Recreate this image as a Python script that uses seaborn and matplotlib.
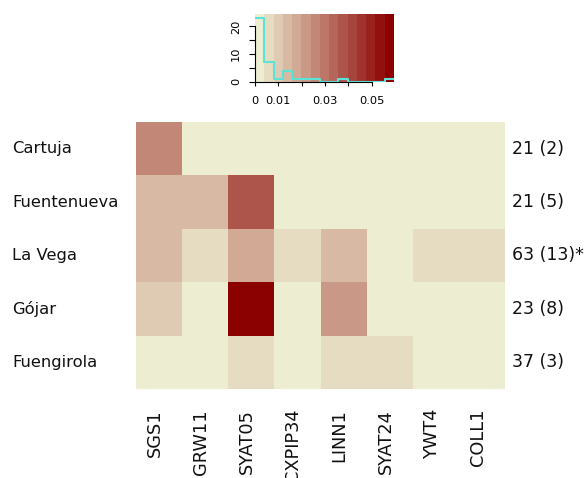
import numpy as np
import pandas as pd
import matplotlib
matplotlib.use("Agg")
import matplotlib.pyplot as plt
import matplotlib.transforms as mtransforms
from matplotlib.colors import ListedColormap, to_rgb
import seaborn as sns

# Populations (rows) and loci (columns)
populations = ["Cartuja", "Fuentenueva", "La Vega", "Gójar", "Fuengirola"]
loci = ["SGS1", "GRW11", "SYAT05", "CXPIP34", "LINN1", "SYAT24", "YWT4", "COLL1"]

# Per-locus frequencies for each population
cartuja     = [0.0255, 0.0, 0.0, 0.0, 0.0, 0.0, 0.0, 0.0]
fuentenueva = [0.0140, 0.0135, 0.0375, 0.0, 0.0, 0.0, 0.0, 0.0]
la_vega     = [0.0145, 0.0060, 0.0180, 0.0055, 0.0150, 0.0, 0.0050, 0.0058]
gojar       = [0.0100, 0.0, 0.0596, 0.0, 0.0220, 0.0, 0.0, 0.0]
fuengirola  = [0.0, 0.0, 0.0065, 0.0, 0.0052, 0.0062, 0.0, 0.0]

# Sample sizes shown on the right of each row
row_notes = ["21 (2)", "21 (5)", "63 (13)*", "23 (8)", "37 (3)"]

key_ticks = [0.0, 0.01, 0.02, 0.03, 0.04, 0.05]
key_tick_labels = ["0", "0.01", "", "0.03", "", "0.05"]
count_ticks = [0, 5, 10, 15, 20]
count_tick_labels = ["0", "", "10", "", "20"]

data = pd.DataFrame([cartuja, fuentenueva, la_vega, gojar, fuengirola],
                    index=populations, columns=loci)

# 15-step ramp from cream to dark red
n_colors = 15
c_low = np.array(to_rgb("#EDEDD1"))
c_high = np.array(to_rgb("#8B0000"))
ramp = [tuple(c_low + (c_high - c_low) * t) for t in np.linspace(0, 1, n_colors)]
cmap = ListedColormap(ramp)
vmin, vmax = float(data.values.min()), float(data.values.max())

W, H = 588, 478
fig = plt.figure(figsize=(W / 100, H / 100), dpi=100)
fig.patch.set_facecolor("white")

def px_box(x0, y0, x1, y1):
    return [x0 / W, 1 - y1 / H, (x1 - x0) / W, (y1 - y0) / H]

# ---- main heatmap ----
ax = fig.add_axes(px_box(136, 122, 505, 389))
sns.heatmap(data, cmap=cmap, vmin=vmin, vmax=vmax, cbar=False, ax=ax,
            xticklabels=False, yticklabels=False, linewidths=0)
ax.set_xlabel("")
ax.set_ylabel("")
ax.tick_params(length=0)

row_tf = mtransforms.blended_transform_factory(fig.transFigure, ax.transData)
for i, (name, note) in enumerate(zip(populations, row_notes)):
    fig.text(12 / W, i + 0.5, name, transform=row_tf, ha="left", va="center",
             fontsize=11.8, family="DejaVu Sans", color="#111111")
    fig.text(512 / W, i + 0.5, note, transform=row_tf, ha="left", va="center",
             fontsize=12.5, family="DejaVu Sans", color="#111111")

col_tf = mtransforms.blended_transform_factory(ax.transData, fig.transFigure) + \
    mtransforms.ScaledTranslation(-4 / 100, 0, fig.dpi_scale_trans)
for j, name in enumerate(loci):
    ax.text(j + 0.5, 1 - 409 / H, name, transform=col_tf, rotation=90,
            ha="center", va="top", fontsize=12.8, family="DejaVu Sans",
            color="#111111", clip_on=False)

# ---- colour key with histogram of cell values ----
kax = fig.add_axes(px_box(255, 14, 394, 82.3))
edges = np.linspace(vmin, vmax, n_colors + 1)
counts, _ = np.histogram(data.values.ravel(), bins=edges)
ymax = 24.5
kax.pcolormesh(edges, [-0.2, ymax], np.arange(n_colors)[None, :],
               cmap=cmap, vmin=-0.5, vmax=n_colors - 0.5, shading="flat")
kax.step(edges, np.append(counts, counts[-1]), where="post",
         color="#5CE3D8", lw=1.5)
kax.set_xlim(vmin, vmax)
kax.set_ylim(-0.2, ymax)
for s in ["top", "right"]:
    kax.spines[s].set_visible(False)
kax.spines["left"].set_bounds(0, 20)
kax.spines["bottom"].set_bounds(0, 0.05)
kax.spines["left"].set_linewidth(0.8)
kax.spines["bottom"].set_linewidth(0.8)
kax.set_xticks(key_ticks)
kax.set_xticklabels(key_tick_labels, fontsize=8.2, family="DejaVu Sans")
kax.set_yticks(count_ticks)
kax.set_yticklabels(count_tick_labels, fontsize=8.2, family="DejaVu Sans",
                    rotation=90, va="center")
kax.tick_params(axis="x", length=3, width=0.8, pad=7)
kax.tick_params(axis="y", length=4, width=0.8, pad=6)

fig.savefig("out.png", dpi=100, facecolor="white")
